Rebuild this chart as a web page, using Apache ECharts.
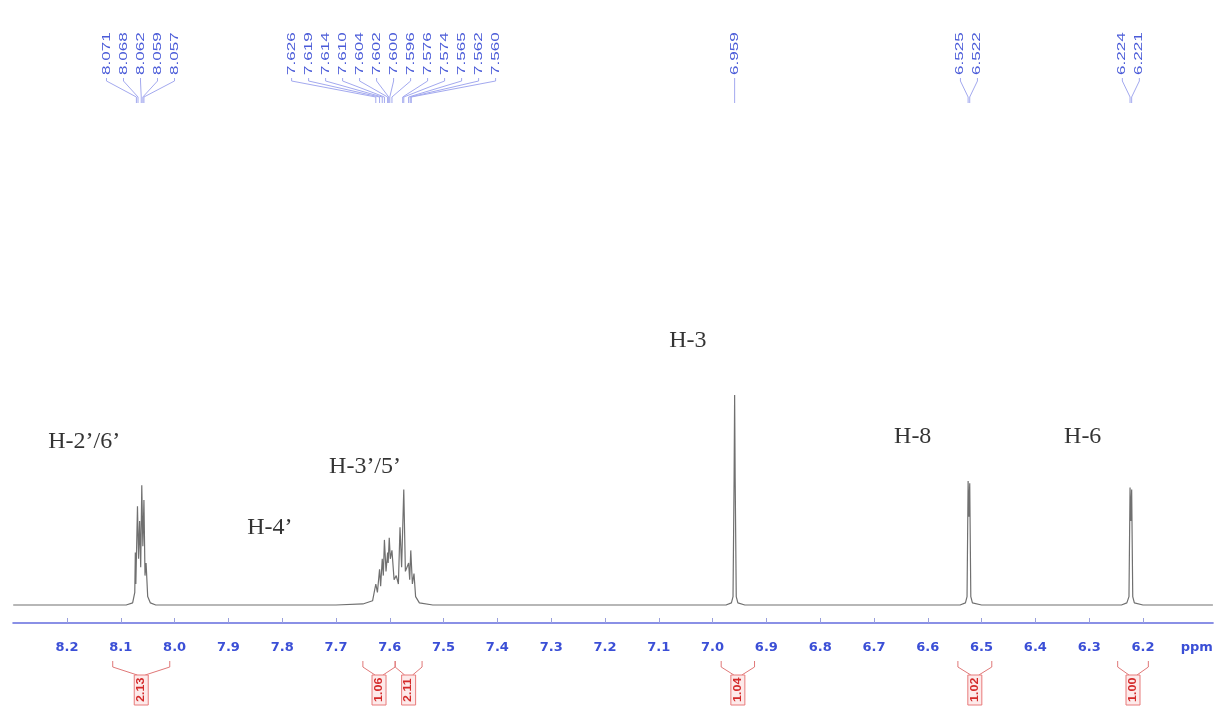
<!DOCTYPE html>
<html>
<head>
<meta charset="utf-8">
<script src="https://cdn.jsdelivr.net/npm/echarts@6/dist/echarts.min.js"></script>
<style>
  html, body { margin: 0; padding: 0; background: #ffffff; }
  #chart { width: 1223px; height: 709px; }
</style>
</head>
<body>
<div id="chart"></div>
<script>
// ---------------- DATA ----------------
// Axis ticks (ppm) and their labels
const tickValues = [8.2, 8.1, 8.0, 7.9, 7.8, 7.7, 7.6, 7.5, 7.4, 7.3, 7.2, 7.1, 7.0, 6.9, 6.8, 6.7, 6.6, 6.5, 6.4, 6.3, 6.2, 6.1];
const tickLabels = ['8.2', '8.1', '8.0', '7.9', '7.8', '7.7', '7.6', '7.5', '7.4', '7.3', '7.2', '7.1', '7.0', '6.9', '6.8', '6.7', '6.6', '6.5', '6.4', '6.3', '6.2', 'ppm'];

// Spectrum trace vertices (chemical shift, relative intensity)
const specPpm = [
  8.300, 8.090, 8.078, 8.074, 8.073, 8.072, 8.069, 8.067, 8.065, 8.063, 8.061, 8.059, 8.057, 8.055, 8.053, 8.050, 8.045, 8.035,
  7.700, 7.650, 7.632, 7.626, 7.623, 7.619, 7.617, 7.614, 7.612, 7.610, 7.607, 7.604, 7.603, 7.601, 7.599, 7.596, 7.592, 7.588,
  7.584, 7.581, 7.578, 7.574, 7.571, 7.565, 7.563, 7.561, 7.558, 7.555, 7.552, 7.545, 7.520,
  6.975, 6.965, 6.962, 6.960, 6.959, 6.958, 6.956, 6.953, 6.940,
  6.540, 6.530, 6.527, 6.525, 6.5235, 6.522, 6.520, 6.517, 6.500,
  6.240, 6.230, 6.226, 6.224, 6.2225, 6.221, 6.219, 6.216, 6.200, 6.070
];
const specInt = [
  0, 0, 1, 6, 25, 10, 47, 22, 40, 18, 57, 28, 50, 14, 20, 4, 1, 0,
  0, 0.5, 2, 10, 6, 17, 9, 22, 14, 31, 16, 25, 20, 32, 22, 26, 12, 14,
  10, 37, 18, 55, 16, 20, 12, 26, 10, 15, 4, 1, 0,
  0, 1, 4, 60, 100, 60, 4, 1, 0,
  0, 1, 4, 59, 42, 58, 4, 1, 0,
  0, 1, 4, 56, 40, 55, 4, 1, 0, 0
];

// Peak-picking labels (ppm), one list per multiplet
const peakGroup1 = [8.071, 8.068, 8.062, 8.059, 8.057];
const peakGroup2 = [7.626, 7.619, 7.614, 7.610, 7.604, 7.602, 7.600, 7.596, 7.576, 7.574, 7.565, 7.562, 7.560];
const peakGroup3 = [6.959];
const peakGroup4 = [6.525, 6.522];
const peakGroup5 = [6.224, 6.221];
const peakGroups = [peakGroup1, peakGroup2, peakGroup3, peakGroup4, peakGroup5];

// Integrals
const integralValues = [2.13, 1.06, 2.11, 1.04, 1.02, 1.00];
const integralFrom = [8.115, 7.650, 7.590, 6.984, 6.544, 6.247];
const integralTo = [8.009, 7.590, 7.540, 6.922, 6.481, 6.190];

// Assignment annotations (anchored at ppm / intensity)
const annLabels = ['H-2\u2019/6\u2019', 'H-4\u2019', 'H-3\u2019/5\u2019', 'H-3', 'H-8', 'H-6'];
const annPpm = [8.168, 7.823, 7.646, 7.046, 6.628, 6.312];
const annHeight = [77.6, 36.7, 65.7, 125.7, 80, 80];

// ---------------- CHART ----------------
const chart = echarts.init(document.getElementById('chart'), null, { renderer: 'canvas' });

const LABEL_BASE_Y = 75;
const LABEL_SPACING = 17;

function tickLabelFor(v) {
  const idx = tickValues.findIndex(t => Math.abs(t - v) < 1e-6);
  return idx >= 0 ? tickLabels[idx] : '';
}

const option = {
  animation: false,
  backgroundColor: '#ffffff',
  grid: {
    left: 13.2, right: 10.1, top: 17, bottom: 86,
    containLabel: false, outerBoundsMode: 'none'
  },
  xAxis: {
    type: 'value',
    inverse: true,
    min: 6.07,
    max: 8.30,
    axisLine: { show: true, onZero: false, lineStyle: { color: '#8a90e6', width: 2 } },
    axisTick: {
      show: true, inside: true, length: 5,
      customValues: tickValues.slice(0, -1),
      lineStyle: { color: '#9aa0dc', width: 1 }
    },
    axisLabel: {
      customValues: tickValues,
      formatter: tickLabelFor,
      color: '#3b4fd6',
      fontWeight: 'bold',
      fontSize: 13,
      fontFamily: 'DejaVu Sans',
      margin: 18
    },
    splitLine: { show: false }
  },
  yAxis: { type: 'value', min: -8.57, max: 280, show: false },
  series: [
    {
      type: 'line',
      silent: true,
      symbol: 'none',
      showSymbol: false,
      data: specPpm.map((p, i) => [p, specInt[i]]),
      lineStyle: { color: '#707070', width: 1.2 },
      z: 3
    },
    {
      type: 'scatter',
      silent: true,
      symbolSize: 1,
      itemStyle: { color: 'rgba(0,0,0,0)' },
      data: annPpm.map((p, i) => [p, annHeight[i], annLabels[i]]),
      label: {
        show: true,
        position: 'inside',
        formatter: p => p.value[2],
        color: '#000000',
        fontFamily: 'Liberation Serif',
        fontSize: 24
      },
      z: 4
    },
    {
      type: 'custom',
      silent: true,
      clip: false,
      data: peakGroups.map(g => [g[0], 0]),
      encode: { x: 0, y: 1 },
      renderItem: function (params, api) {
        const g = peakGroups[params.dataIndex];
        const n = g.length;
        const pxs = g.map(p => api.coord([p, 0])[0]);
        const cx = pxs.reduce((a, b) => a + b, 0) / n;
        const children = [];
        g.forEach((p, i) => {
          const lx = cx + (i - (n - 1) / 2) * LABEL_SPACING;
          children.push({
            type: 'text',
            x: lx, y: LABEL_BASE_Y,
            rotation: Math.PI / 2,
            scaleX: 1.55,
            style: {
              text: p.toFixed(3),
              fill: '#4a5bd8',
              font: '11px "Liberation Sans"',
              align: 'left', verticalAlign: 'middle',
              textAlign: 'left', textVerticalAlign: 'middle'
            }
          });
          children.push({
            type: 'polyline',
            shape: { points: [[lx, LABEL_BASE_Y + 3], [lx, LABEL_BASE_Y + 6], [pxs[i], LABEL_BASE_Y + 22], [pxs[i], LABEL_BASE_Y + 28]] },
            style: { stroke: '#a3a9ef', lineWidth: 1, fill: null }
          });
        });
        return { type: 'group', children: children };
      },
      z: 5
    },
    {
      type: 'custom',
      silent: true,
      clip: false,
      data: integralValues.map((v, i) => [integralFrom[i], 0]),
      encode: { x: 0, y: 1 },
      renderItem: function (params, api) {
        const i = params.dataIndex;
        const x1 = api.coord([integralFrom[i], 0])[0];
        const x2 = api.coord([integralTo[i], 0])[0];
        const cx = (x1 + x2) / 2;
        const top = 661, bend = 667, boxTop = 675, boxH = 30;
        return {
          type: 'group',
          children: [
            { type: 'polyline', shape: { points: [[x1, top], [x1, bend], [cx - 4, boxTop]] }, style: { stroke: '#e07878', lineWidth: 1, fill: null } },
            { type: 'polyline', shape: { points: [[x2, top], [x2, bend], [cx + 4, boxTop]] }, style: { stroke: '#e07878', lineWidth: 1, fill: null } },
            { type: 'rect', shape: { x: cx - 7, y: boxTop, width: 14, height: boxH }, style: { fill: '#fdeaea', stroke: '#e87a7a', lineWidth: 1 } },
            {
              type: 'text', x: cx, y: boxTop + boxH - 3, rotation: Math.PI / 2, scaleX: 1.25,
              style: {
                text: integralValues[i].toFixed(2), fill: '#d42a2a',
                font: 'bold 10px "Liberation Sans"',
                align: 'left', verticalAlign: 'middle',
                textAlign: 'left', textVerticalAlign: 'middle'
              }
            }
          ]
        };
      },
      z: 5
    }
  ]
};

chart.setOption(option);
</script>
</body>
</html>
